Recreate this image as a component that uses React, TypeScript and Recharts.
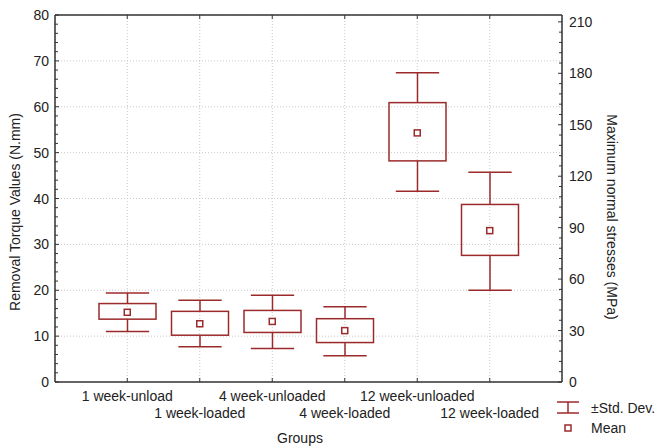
import React from 'react';
import { ComposedChart, Bar, Scatter, XAxis, YAxis, CartesianGrid, Label } from 'recharts';

// groups and values (left axis, N.mm)
const GROUPS = ['1 week-unload', '1 week-loaded', '4 week-unloaded', '4 week-loaded', '12 week-unloaded', '12 week-loaded'];
const MEAN = [15.2, 12.7, 13.2, 11.2, 54.3, 33.0];
const BOX_LOW = [13.7, 10.2, 10.8, 8.6, 48.2, 27.6];
const BOX_HIGH = [17.1, 15.4, 15.6, 13.8, 60.9, 38.7];
const SD_LOW = [11.0, 7.7, 7.3, 5.7, 41.6, 20.0];
const SD_HIGH = [19.4, 17.8, 18.9, 16.4, 67.4, 45.7];

const LEFT_TICKS = [0, 10, 20, 30, 40, 50, 60, 70, 80];
const RIGHT_TICKS = [0, 30, 60, 90, 120, 150, 180, 210];
const LEFT_MINOR = 2;
const RIGHT_MINOR = 6;

const RED = '#9c2a2b';
const INK = '#222';
const AXIS = '#333';
const FONT = '"Liberation Sans", Arial, sans-serif';
const FS = 14;

const data = GROUPS.map((group, i) => ({
  group,
  mean: MEAN[i],
  boxLow: BOX_LOW[i],
  boxHigh: BOX_HIGH[i],
  sdLow: SD_LOW[i],
  sdHigh: SD_HIGH[i],
}));

const withMinor = (majors: number[], step: number) => {
  const out: number[] = [];
  const max = majors[majors.length - 1];
  for (let k = 0; k * step <= max; k++) out.push(k * step);
  return out;
};

const LeftTick = ({ x, y, payload }: any) => {
  const major = LEFT_TICKS.includes(payload.value);
  return (
    <g>
      <line x1={x} x2={x + (major ? 4 : 3)} y1={y} y2={y} stroke={AXIS} />
      {major && (
        <text x={x - 6} y={y} dy={5} textAnchor="end" fontSize={FS} fontFamily={FONT} fill={INK}>
          {payload.value}
        </text>
      )}
    </g>
  );
};

const RightTick = ({ x, y, payload }: any) => {
  const major = RIGHT_TICKS.includes(payload.value);
  return (
    <g>
      <line x1={x} x2={x - (major ? 4 : 3)} y1={y} y2={y} stroke={AXIS} />
      {major && (
        <text x={x + 7} y={y} dy={5} textAnchor="start" fontSize={FS} fontFamily={FONT} fill={INK}>
          {payload.value}
        </text>
      )}
    </g>
  );
};

const BottomTick = ({ x, y, payload, index }: any) => {
  const row = (payload.index ?? index ?? 0) % 2;
  return (
    <g>
      <line x1={x} x2={x} y1={y} y2={y - 4} stroke={AXIS} />
      <text x={x} y={y + 19} textAnchor="middle" dy={row * 17} fontSize={FS} fontFamily={FONT} fill={INK}>
        {payload.value}
      </text>
    </g>
  );
};

const TopTick = ({ x, y }: any) => <line x1={x} x2={x} y1={y} y2={y + 4} stroke={AXIS} />;

// whiskers (±SD) + box, scaled from the bar's own sdLow..sdHigh range
const BoxShape = (props: any) => {
  const { x, y, width, height, payload } = props;
  const top = Math.min(y, y + height);
  const h = Math.abs(height);
  const k = h / (payload.sdHigh - payload.sdLow);
  const toY = (v: number) => top + (payload.sdHigh - v) * k;
  const cx = x + width / 2;
  const cap = width * 0.38;
  return (
    <g stroke={RED} strokeWidth={1.5} fill="none">
      <line x1={cx - cap} x2={cx + cap} y1={toY(payload.sdHigh)} y2={toY(payload.sdHigh)} />
      <line x1={cx} x2={cx} y1={toY(payload.sdHigh)} y2={toY(payload.boxHigh)} />
      <rect x={x} y={toY(payload.boxHigh)} width={width} height={toY(payload.boxLow) - toY(payload.boxHigh)} />
      <line x1={cx} x2={cx} y1={toY(payload.boxLow)} y2={toY(payload.sdLow)} />
      <line x1={cx - cap} x2={cx + cap} y1={toY(payload.sdLow)} y2={toY(payload.sdLow)} />
    </g>
  );
};

const MeanShape = ({ cx, cy }: any) => (
  <rect x={cx - 3} y={cy - 3} width={6} height={6} fill="#fff" stroke={RED} strokeWidth={1.5} />
);

export default function App() {
  return (
    <div style={{ position: 'absolute', left: 0, top: 0, width: 657, height: 447, background: '#fff' }}>
      <ComposedChart width={657} height={447} data={data} margin={{ top: 14, right: 0, bottom: 0, left: 0 }}>
        <CartesianGrid horizontalValues={LEFT_TICKS} stroke="#c8c8c8" strokeDasharray="1 2" />
        <XAxis
          dataKey="group"
          padding={{ left: 36, right: 36 }}
          height={65}
          interval={0}
          tickLine={false}
          tickSize={0}
          tickMargin={0}
          tick={<BottomTick />}
          axisLine={{ stroke: AXIS, strokeWidth: 1.5 }}
        >
          <Label
            content={() => (
              <text x={300} y={443} textAnchor="middle" fontSize={FS} fontFamily={FONT} fill={INK}>
                Groups
              </text>
            )}
          />
        </XAxis>
        <XAxis
          xAxisId="top"
          orientation="top"
          dataKey="group"
          padding={{ left: 36, right: 36 }}
          height={1}
          interval={0}
          tickLine={false}
          tickSize={0}
          tickMargin={0}
          tick={<TopTick />}
          axisLine={{ stroke: AXIS, strokeWidth: 1.5 }}
        />
        <YAxis
          type="number"
          domain={[0, 80]}
          ticks={withMinor(LEFT_TICKS, LEFT_MINOR)}
          interval={0}
          width={55}
          tickLine={false}
          tickSize={0}
          tickMargin={0}
          tick={<LeftTick />}
          axisLine={{ stroke: AXIS, strokeWidth: 1.5 }}
        >
          <Label
            content={() => (
              <text transform="translate(20,212) rotate(-90)" textAnchor="middle" fontSize={FS} fontFamily={FONT} fill={INK}>
                Removal Torque Values (N.mm)
              </text>
            )}
          />
        </YAxis>
        <YAxis
          yAxisId="right"
          orientation="right"
          type="number"
          domain={[0, 214]}
          allowDataOverflow
          ticks={withMinor(RIGHT_TICKS, RIGHT_MINOR)}
          interval={0}
          width={95}
          tickLine={false}
          tickSize={0}
          tickMargin={0}
          tick={<RightTick />}
          axisLine={{ stroke: AXIS, strokeWidth: 1.5 }}
        >
          <Label
            content={() => (
              <text transform="translate(607,217) rotate(90)" textAnchor="middle" fontSize={FS} fontFamily={FONT} fill={INK}>
                Maximum normal stresses (MPa)
              </text>
            )}
          />
        </YAxis>
        <Bar
          dataKey={(d: any) => [d.sdLow, d.sdHigh]}
          barSize={57}
          shape={<BoxShape />}
          isAnimationActive={false}
        />
        <Scatter dataKey="mean" shape={<MeanShape />} isAnimationActive={false} />
      </ComposedChart>
      <svg width={657} height={447} style={{ position: 'absolute', left: 0, top: 0, pointerEvents: 'none' }}>
        <g stroke={RED} strokeWidth={1.5} fill="none">
          <line x1={557} x2={579} y1={402} y2={402} />
          <line x1={568} x2={568} y1={402} y2={413} />
          <line x1={557} x2={579} y1={413} y2={413} />
          <rect x={565} y={425} width={6} height={6} fill="#fff" />
        </g>
        <text x={591} y={413} fontSize={FS} fontFamily={FONT} fill={INK}>±Std. Dev.</text>
        <text x={591} y={433} fontSize={FS} fontFamily={FONT} fill={INK}>Mean</text>
      </svg>
    </div>
  );
}
